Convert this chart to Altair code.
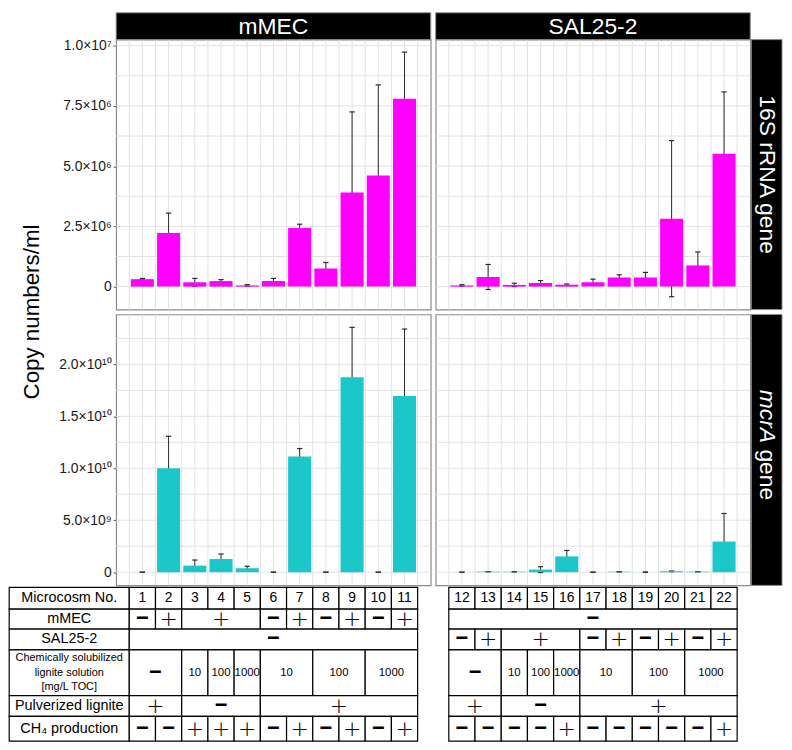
import altair as alt
import pandas as pd

# ---------------- data ----------------
left_ids = list(range(1, 12))
right_ids = list(range(12, 23))

rrna_left = [0.31e6, 2.22e6, 0.18e6, 0.23e6, 0.05e6, 0.23e6, 2.43e6, 0.75e6, 3.91e6, 4.61e6, 7.80e6]
rrna_left_sd = [0.03e6, 0.83e6, 0.16e6, 0.06e6, 0.03e6, 0.11e6, 0.16e6, 0.25e6, 3.34e6, 3.76e6, 1.93e6]
rrna_right = [0.05e6, 0.40e6, 0.07e6, 0.15e6, 0.08e6, 0.18e6, 0.38e6, 0.38e6, 2.82e6, 0.88e6, 5.51e6]
rrna_right_sd = [0.03e6, 0.52e6, 0.07e6, 0.10e6, 0.03e6, 0.13e6, 0.11e6, 0.21e6, 3.24e6, 0.56e6, 2.57e6]

mcra_left = [0, 10.0e9, 0.63e9, 1.27e9, 0.38e9, 0, 11.14e9, 0, 18.76e9, 0, 16.95e9]
mcra_left_sd = [0, 3.08e9, 0.54e9, 0.48e9, 0.19e9, 0, 0.76e9, 0, 4.80e9, 0, 6.45e9]
mcra_right = [0, 0.05e9, 0.04e9, 0.25e9, 1.52e9, 0, 0.04e9, 0, 0.08e9, 0.05e9, 2.95e9]
mcra_right_sd = [0, 0.01e9, 0.01e9, 0.28e9, 0.57e9, 0, 0.01e9, 0, 0.03e9, 0.01e9, 2.70e9]

rrna_ticks = [0, 2.5e6, 5e6, 7.5e6, 1e7]
rrna_tick_labels = ["0", "2.5×10⁶", "5.0×10⁶", "7.5×10⁶", "1.0×10⁷"]
rrna_grid = [0, 1.25e6, 2.5e6, 3.75e6, 5e6, 6.25e6, 7.5e6, 8.75e6, 1e7]
mcra_ticks = [0, 5e9, 1e10, 1.5e10, 2e10]
mcra_tick_labels = ["0", "5.0×10⁹", "1.0×10¹⁰", "1.5×10¹⁰", "2.0×10¹⁰"]
mcra_grid = [0, 2.5e9, 5e9, 7.5e9, 1e10, 1.25e10, 1.5e10, 1.75e10, 2e10, 2.25e10]

rrna_domain = [-0.95e6, 10.25e6]
mcra_domain = [-1.27e9, 24.8e9]

col_labels = ["mMEC", "SAL25-2"]
row_labels = ["16S rRNA gene", "mcrA gene"]
y_title = "Copy numbers/ml"

# table
table_row_names = ["Microcosm No.", "mMEC", "SAL25-2",
                   "Chemically solubilized\nlignite solution\n[mg/L TOC]",
                   "Pulverized lignite", "CH₄ production"]
# segments: (first microcosm, last microcosm, text)
t_mmec_left = [(1, 1, "−"), (2, 2, "+"), (3, 5, "+"), (6, 6, "−"), (7, 7, "+"),
               (8, 8, "−"), (9, 9, "+"), (10, 10, "−"), (11, 11, "+")]
t_sal_left = [(1, 11, "−")]
t_chem_left = [(1, 2, "−"), (3, 3, "10"), (4, 4, "100"), (5, 5, "1000"),
               (6, 7, "10"), (8, 9, "100"), (10, 11, "1000")]
t_pulv_left = [(1, 2, "+"), (3, 5, "−"), (6, 11, "+")]
t_ch4_left = ["−", "−", "+", "+", "+", "−", "+", "−", "+", "−", "+"]

t_mmec_right = [(12, 22, "−")]
t_sal_right = [(12, 12, "−"), (13, 13, "+"), (14, 16, "+"), (17, 17, "−"), (18, 18, "+"),
               (19, 19, "−"), (20, 20, "+"), (21, 21, "−"), (22, 22, "+")]
t_chem_right = [(12, 13, "−"), (14, 14, "10"), (15, 15, "100"), (16, 16, "1000"),
                (17, 18, "10"), (19, 20, "100"), (21, 22, "1000")]
t_pulv_right = [(12, 13, "+"), (14, 16, "−"), (17, 22, "+")]
t_ch4_right = ["−", "−", "−", "−", "+", "−", "−", "−", "−", "−", "+"]

# ---------------- layout / style ----------------
W = 317
H_TOP = 272
H_BOT = 273
H_TAB = 152
FONT = "Liberation Sans"
MAGENTA = "#FF00FF"
CYAN = "#1CC7C9"
BORDER = "#8a8a8a"
GRID = "#e2e2e2"
row_edges = [0, 22, 42, 63, 109, 130, 155]   # table row boundaries (px from table top)
HEADER_LEFT = -4.08


def label_expr(ticks, labels):
    expr = "''"
    for t, l in reversed(list(zip(ticks, labels))):
        expr = f"datum.value == {int(t)} ? '{l}' : ({expr})"
    return expr


def panel(ids, vals, sds, color, ydom, yticks, ylabels, ygrid, xdom, height,
          show_y, top_label=None, right_label=None, italic_split=False, with_title=False):
    df = pd.DataFrame({"m": ids, "v": vals, "sd": sds})
    xs = alt.Scale(domain=xdom, nice=False, zero=False)
    ys = alt.Scale(domain=ydom, nice=False, zero=False)
    xgrid = [xdom[0] + 0.5 * k for k in range(1, 24)]

    if show_y:
        yaxis = alt.Axis(values=yticks, labelExpr=label_expr(yticks, ylabels), grid=False,
                         domain=False, ticks=True, tickColor="#555555", tickSize=3, tickWidth=1,
                         labelFontSize=14, labelColor="#1a1a1a", labelPadding=2, title=None,
                         labelFont=FONT)
    else:
        yaxis = None

    gx = alt.Chart(pd.DataFrame({"g": xgrid})).mark_rule(color=GRID, strokeWidth=1).encode(
        x=alt.X("g:Q", scale=xs, axis=None))
    gy = alt.Chart(pd.DataFrame({"g": ygrid})).mark_rule(color=GRID, strokeWidth=1).encode(
        y=alt.Y("g:Q", scale=ys, axis=yaxis))

    base = alt.Chart(df).transform_calculate(
        lo="datum.v - datum.sd", hi="datum.v + datum.sd",
        xl="datum.m - 0.44", xr="datum.m + 0.44",
        cl="datum.m - 0.1", cr="datum.m + 0.1")

    err = base.mark_rule(color="#2a2a2a", strokeWidth=1).encode(
        x=alt.X("m:Q", scale=xs, axis=None),
        y=alt.Y("lo:Q", scale=ys, axis=yaxis), y2="hi:Q")
    cap_hi = base.mark_rule(color="#2a2a2a", strokeWidth=1.2).encode(
        x=alt.X("cl:Q", scale=xs, axis=None), x2="cr:Q",
        y=alt.Y("hi:Q", scale=ys, axis=yaxis))
    cap_lo = base.mark_rule(color="#2a2a2a", strokeWidth=1.2).encode(
        x=alt.X("cl:Q", scale=xs, axis=None), x2="cr:Q",
        y=alt.Y("lo:Q", scale=ys, axis=yaxis))
    bars = base.mark_rect(color=color).encode(
        x=alt.X("xl:Q", scale=xs, axis=None), x2="xr:Q",
        y=alt.Y("v:Q", scale=ys, axis=yaxis), y2=alt.datum(0))

    layers = [gx, gy, err, cap_hi, cap_lo, bars]

    one = pd.DataFrame({"t": [0]})
    if top_label is not None:
        layers.append(alt.Chart(one).mark_rect(color="black", stroke=BORDER, strokeWidth=1).encode(
            x=alt.value(0), x2=alt.value(W), y=alt.value(-27), y2=alt.value(0)))
        layers.append(alt.Chart(pd.DataFrame({"t": [top_label]})).mark_text(
            color="white", fontSize=23, font=FONT, baseline="middle").encode(
            x=alt.value(W / 2), y=alt.value(-12.5), text="t:N"))
    if right_label is not None:
        layers.append(alt.Chart(one).mark_rect(color="black", stroke=BORDER, strokeWidth=1).encode(
            x=alt.value(W + 1), x2=alt.value(W + 32), y=alt.value(0), y2=alt.value(height)))
        if italic_split:
            first, rest = right_label.split(" ", 1)
            layers.append(alt.Chart(pd.DataFrame({"t": [first]})).mark_text(
                color="white", fontSize=23, font=FONT, fontStyle="italic", angle=90,
                align="right", baseline="middle").encode(
                x=alt.value(W + 16.5), y=alt.value(height / 2 - 7), text="t:N"))
            layers.append(alt.Chart(pd.DataFrame({"t": [rest]})).mark_text(
                color="white", fontSize=23, font=FONT, angle=90,
                align="left", baseline="middle").encode(
                x=alt.value(W + 16.5), y=alt.value(height / 2 - 0.5), text="t:N"))
        else:
            layers.append(alt.Chart(pd.DataFrame({"t": [right_label]})).mark_text(
                color="white", fontSize=23, font=FONT, angle=90,
                align="center", baseline="middle").encode(
                x=alt.value(W + 16.5), y=alt.value(height / 2), text="t:N"))
    if with_title:
        layers.append(alt.Chart(pd.DataFrame({"t": [y_title]})).mark_text(
            color="black", fontSize=22.5, font=FONT, angle=270,
            align="center", baseline="middle").encode(
            x=alt.value(-85), y=alt.value(height + 2.5), text="t:N"))

    return alt.layer(*layers).properties(
        width=W, height=height,
        view=alt.ViewBackground(stroke=BORDER, strokeWidth=1.2, fill="white"))


def table(xdom, segs_rows, ch4, ids, with_header):
    xs = alt.Scale(domain=xdom, nice=False, zero=False)
    ys = alt.Scale(domain=[3, 155], nice=False, zero=False, reverse=True)
    cells = []
    texts = []

    def add(x0, x1, r, txt, kind):
        cells.append({"x0": x0, "x1": x1, "y0": row_edges[r], "y1": row_edges[r + 1]})
        texts.append({"xc": (x0 + x1) / 2, "yc": (row_edges[r] + row_edges[r + 1]) / 2,
                      "t": txt, "kind": kind})

    def sign_kind(t):
        if t == "+":
            return "plus"
        if t == "−":
            return "minus"
        return "chem"

    if with_header:
        for r, name in enumerate(table_row_names):
            add(HEADER_LEFT, 0.5, r, name, "hdr_small" if r == 3 else "hdr")
    for m in ids:
        add(m - 0.5, m + 0.5, 0, str(m), "num")
    for r, segs in zip([1, 2, 3, 4], segs_rows):
        for a, b, t in segs:
            add(a - 0.5, b + 0.5, r, t, sign_kind(t))
    for m, t in zip(ids, ch4):
        add(m - 0.5, m + 0.5, 5, t, sign_kind(t))

    cdf = pd.DataFrame(cells)
    tdf = pd.DataFrame(texts)
    rects = alt.Chart(cdf).mark_rect(fill="white", stroke="black", strokeWidth=1.2).encode(
        x=alt.X("x0:Q", scale=xs, axis=None), x2="x1:Q",
        y=alt.Y("y0:Q", scale=ys, axis=None), y2="y1:Q")

    def txt_layer(kind, size, **kw):
        return alt.Chart(tdf).transform_filter(alt.datum.kind == kind).mark_text(
            fontSize=size, color="black", baseline="middle", align="center", **kw).encode(
            x=alt.X("xc:Q", scale=xs, axis=None),
            y=alt.Y("yc:Q", scale=ys, axis=None), text="t:N")

    layers = [rects,
              txt_layer("num", 14, font=FONT),
              txt_layer("chem", 11.5, font=FONT),
              txt_layer("plus", 22, font="DejaVu Sans", fontWeight=200, dy=0),
              txt_layer("minus", 22, font=FONT, fontWeight="bold", dy=-1)]
    if with_header:
        layers.append(txt_layer("hdr", 14.5, font=FONT))
        layers.append(txt_layer("hdr_small", 11, font=FONT, lineBreak="\n", lineHeight=14.5,
                                dy=-14.5))
    return alt.layer(*layers).properties(
        width=W, height=H_TAB, view=alt.ViewBackground(strokeOpacity=0))


xl_dom = [0, 12]
xr_dom = [11, 23]

tl = panel(left_ids, rrna_left, rrna_left_sd, MAGENTA, rrna_domain, rrna_ticks, rrna_tick_labels,
           rrna_grid, xl_dom, H_TOP, True, top_label=col_labels[0], with_title=True)
tr = panel(right_ids, rrna_right, rrna_right_sd, MAGENTA, rrna_domain, rrna_ticks, rrna_tick_labels,
           rrna_grid, xr_dom, H_TOP, False, top_label=col_labels[1], right_label=row_labels[0])
bl = panel(left_ids, mcra_left, mcra_left_sd, CYAN, mcra_domain, mcra_ticks, mcra_tick_labels,
           mcra_grid, xl_dom, H_BOT, True)
br = panel(right_ids, mcra_right, mcra_right_sd, CYAN, mcra_domain, mcra_ticks, mcra_tick_labels,
           mcra_grid, xr_dom, H_BOT, False, right_label=row_labels[1], italic_split=True)

tab_l = table(xl_dom, [t_mmec_left, t_sal_left, t_chem_left, t_pulv_left], t_ch4_left, left_ids, True)
tab_r = table(xr_dom, [t_mmec_right, t_sal_right, t_chem_right, t_pulv_right], t_ch4_right, right_ids, False)

chart = alt.concat(tl, tr, bl, br, tab_l, tab_r, columns=2,
                   spacing={"row": 5, "column": 5}, bounds="flush").resolve_scale(
    x="independent", y="independent").properties(padding=0).configure(font=FONT)

chart.save("out.html", embed_options={"renderer": "svg", "actions": False})
